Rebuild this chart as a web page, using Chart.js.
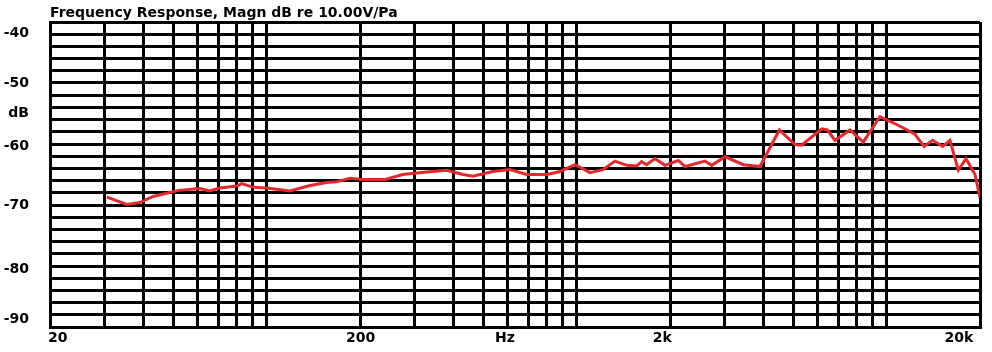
<!DOCTYPE html>
<html>
<head>
<meta charset="utf-8">
<script src="https://cdn.jsdelivr.net/npm/chart.js@4/dist/chart.umd.min.js"></script>
<style>
  html, body { margin: 0; padding: 0; background: #ffffff; }
  #c { display: block; }
</style>
</head>
<body>
<canvas id="c" width="992" height="352"></canvas>
<script>
// ---- data ----
const titleText = 'Frequency Response, Magn dB re 10.00V/Pa';

const freqHz = [30.5, 35.4, 39.0, 43.0, 52, 60.9, 65.6, 70.7, 80.1, 83.1, 90.5, 100, 118.9, 138, 156, 168, 186, 203, 241, 275, 328, 381, 430, 463, 537, 609, 690, 801, 884, 988, 1104, 1216, 1329, 1450, 1562, 1620, 1682, 1789, 1927, 2128, 2236, 2594, 2726, 3010, 3448, 3904, 4506, 5062, 5318, 6172, 6434, 6812, 7616, 8406, 9516, 10774, 12344, 13198, 14074, 15160, 16004, 17022, 18026, 19272, 20000];
const magDb = [-68.7, -69.9, -69.6, -68.6, -67.6, -67.3, -67.7, -67.2, -66.9, -66.5, -67.1, -67.2, -67.7, -66.8, -66.3, -66.2, -65.6, -65.8, -65.8, -65.0, -64.6, -64.3, -65.0, -65.3, -64.5, -64.2, -65.0, -65.0, -64.5, -63.4, -64.7, -64.2, -62.8, -63.5, -63.6, -62.9, -63.4, -62.4, -63.5, -62.7, -63.7, -62.8, -63.5, -62.1, -63.4, -63.7, -57.7, -60.1, -60.2, -57.5, -57.7, -59.4, -57.7, -59.7, -55.5, -56.8, -58.4, -60.4, -59.4, -60.4, -59.4, -64.3, -62.4, -65.0, -68.8];

// grid ticks
const xGridTicks = [20, 30, 40, 50, 60, 70, 80, 90, 100, 200, 300, 400, 500, 600, 700, 800, 900, 1000, 2000, 3000, 4000, 5000, 6000, 7000, 8000, 9000, 10000, 20000];
const xMin = 20, xMax = 20000;
const yMin = -90, yMax = -40, yStep = 2;

// axis labels as placed in the reference
const xLabelText = ['20', '200', 'Hz', '2k', '20k'];
const xLabelAt = [21.2, 201, 587, 1888, 17100];
const yLabelText = ['-40', '-50', 'dB', '-60', '-70', '-80', '-90'];
const yLabelAt = [-41.8, -50, -55, -60.4, -70.1, -80.5, -88.7];

const FONT = { family: 'DejaVu Sans', size: 14, weight: 'bold' };

const titlePlugin = {
  id: 'leftTitle',
  afterDraw(chart) {
    const ctx = chart.ctx;
    ctx.save();
    ctx.font = 'bold 14px "DejaVu Sans"';
    ctx.fillStyle = '#000';
    ctx.textAlign = 'left';
    ctx.textBaseline = 'alphabetic';
    ctx.fillText(titleText, chart.chartArea.left, 17);
    ctx.restore();
  }
};

new Chart(document.getElementById('c'), {
  type: 'line',
  data: {
    datasets: [{
      data: freqHz.map((f, i) => ({ x: f, y: magDb[i] })),
      borderColor: '#e5282c',
      borderWidth: 3,
      pointRadius: 0,
      tension: 0,
      fill: false
    }]
  },
  plugins: [titlePlugin],
  options: {
    responsive: false,
    animation: false,
    devicePixelRatio: 1,
    layout: { padding: { left: 0, right: 12, top: 22, bottom: 0 } },
    plugins: {
      legend: { display: false },
      tooltip: { enabled: false },
      title: { display: false }
    },
    scales: {
      x: {
        type: 'logarithmic',
        min: xMin, max: xMax,
        position: 'bottom',
        weight: 0,
        afterBuildTicks: s => { s.ticks = xGridTicks.map(v => ({ value: v })); },
        afterFit: s => { s.height = 0; },
        ticks: { display: false },
        grid: { color: '#000', lineWidth: 3, drawTicks: false },
        border: { display: true, color: '#000', width: 3 }
      },
      xl: {
        type: 'logarithmic',
        min: xMin, max: xMax,
        position: 'bottom',
        weight: 1,
        afterBuildTicks: s => { s.ticks = xLabelAt.map(v => ({ value: v })); },
        afterFit: s => { s.height = 25; },
        ticks: {
          autoSkip: false, maxRotation: 0, minRotation: 0, padding: 3,
          color: '#000', font: FONT,
          callback: (v, i) => xLabelText[i]
        },
        grid: { display: false, drawTicks: false },
        border: { display: false }
      },
      y: {
        type: 'linear',
        min: yMin, max: yMax,
        position: 'left',
        weight: 0,
        ticks: { display: false, stepSize: yStep },
        afterFit: s => { s.width = 21; },
        grid: { color: '#000', lineWidth: 3, drawTicks: false },
        border: { display: true, color: '#000', width: 3 }
      },
      yl: {
        type: 'linear',
        min: yMin, max: yMax,
        position: 'left',
        weight: 1,
        afterBuildTicks: s => { s.ticks = yLabelAt.map(v => ({ value: v })); },
        afterFit: s => { s.width = 29; },
        ticks: {
          autoSkip: false, padding: 0,
          color: '#000', font: FONT,
          callback: (v, i) => yLabelText[i]
        },
        grid: { display: false, drawTicks: false },
        border: { display: false }
      }
    }
  }
});
</script>
</body>
</html>
